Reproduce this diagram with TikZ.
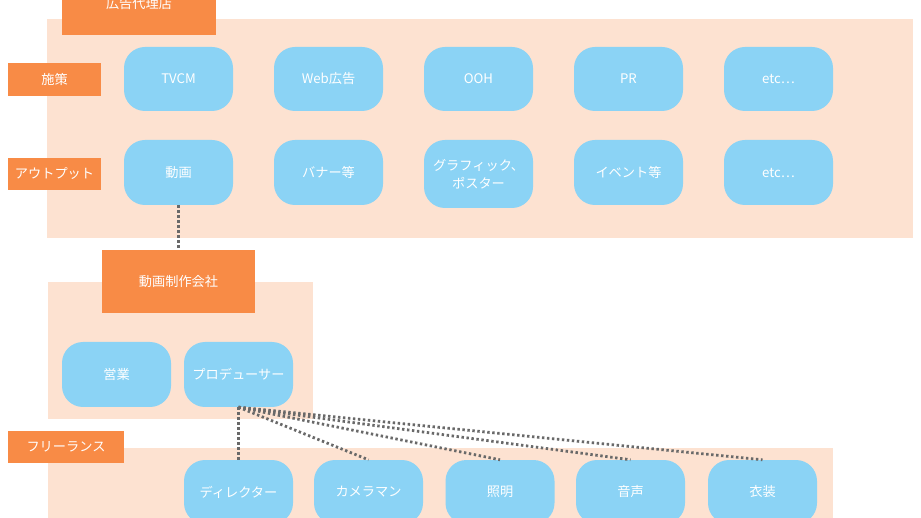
\documentclass[tikz,border=0pt]{standalone}
\usepackage{fontspec}
\setmainfont{Noto Sans CJK JP}
\definecolor{peach}{RGB}{253,226,209}
\definecolor{orng}{RGB}{248,139,70}
\definecolor{sky}{RGB}{139,211,245}
\definecolor{dotgray}{RGB}{105,105,105}
\tikzset{
  bg/.style={fill=peach, draw=none},
  lab/.style={fill=orng, draw=none, text=white, inner sep=0pt, font=\fontsize{13.2}{16}\selectfont},
  pill/.style={fill=sky, draw=none, text=white, rounded corners=21pt, minimum width=109pt, minimum height=64pt, inner sep=0pt, align=center, font=\fontsize{13.2}{18}\selectfont},
  link/.style={dotgray, line width=2.8pt, dash pattern=on 2.4pt off 2.6pt},
}
\begin{document}
\begin{tikzpicture}[x=1pt,y=-1pt]
\useasboundingbox (0,0) rectangle (921,518);
\clip (0,0) rectangle (921,518);
% backgrounds
\fill[bg] (47,19) rectangle (913,238);
\fill[bg] (48,282) rectangle (313,419);
\fill[bg] (48,448) rectangle (833,530);
% orange labels
\node[lab, minimum width=154pt, minimum height=63pt] (ad) at (139,4) {広告代理店};
\node[lab, minimum width=93pt, minimum height=33pt] (shisaku) at (54.5,79.5) {施策};
\node[lab, minimum width=93pt, minimum height=32pt] (output) at (54.5,174) {アウトプット};
\node[lab, minimum width=153pt, minimum height=63pt] (prodco) at (178.5,281.5) {動画制作会社};
\node[lab, minimum width=116pt, minimum height=32pt] (free) at (66,447) {フリーランス};
% row 1
\node[pill] (tvcm) at (178.5,79) {TVCM};
\node[pill] (web) at (328.5,79) {Web広告};
\node[pill] (ooh) at (478.5,79) {OOH};
\node[pill] (pr) at (628.5,79) {PR};
\node[pill] (etc1) at (778.5,79) {etc⋯};
% row 2
\node[pill, minimum height=65pt] (movie) at (178.5,172.5) {動画};
\node[pill, minimum height=65pt] (banner) at (328.5,172.5) {バナー等};
\node[pill, minimum height=68pt] (graphic) at (478.5,174) {グラフィック、\\ポスター};
\node[pill, minimum height=65pt] (event) at (628.5,172.5) {イベント等};
\node[pill, minimum height=65pt] (etc2) at (778.5,172.5) {etc⋯};
% production company
\node[pill, minimum height=65pt] (sales) at (116.5,374.5) {営業};
\node[pill, minimum height=65pt] (prod) at (238.5,374.5) {プロデューサー};
% freelance
\node[pill] (dir) at (238.5,492) {ディレクター};
\node[pill] (cam) at (368.5,492) {カメラマン};
\node[pill] (light) at (500,492) {照明};
\node[pill] (sound) at (630.5,492) {音声};
\node[pill] (cost) at (762.5,492) {衣装};
% connectors
\draw[link] (movie.south) -- (prodco.north);
\draw[link] (prod.south) -- (dir.north);
\draw[link] (prod.south) -- (cam.north);
\draw[link] (prod.south) -- (light.north);
\draw[link] (prod.south) -- (sound.north);
\draw[link] (prod.south) -- (cost.north);
\end{tikzpicture}
\end{document}
